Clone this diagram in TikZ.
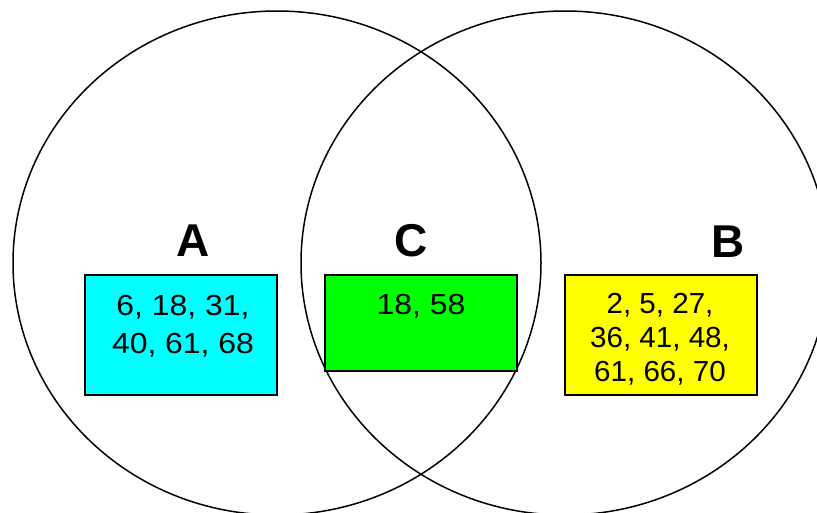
\documentclass[tikz,border=0pt]{standalone}
\usepackage{fontspec}
\setmainfont{Liberation Sans}
\newfontfamily\wideA[FakeStretch=1.1]{Liberation Sans}
\newfontfamily\wideB[FakeStretch=1.02]{Liberation Sans}
\definecolor{fillA}{RGB}{0,255,255}
\definecolor{fillC}{RGB}{0,255,0}
\definecolor{fillB}{RGB}{255,255,0}
\begin{document}
\begin{tikzpicture}[x=1pt,y=-1pt,
  ring/.style={draw=black,line width=1.5pt},
  setbox/.style={draw=black,line width=2pt,rectangle,inner sep=0pt},
  nums/.style={anchor=north,inner sep=0pt,align=center},
  lbl/.style={anchor=base,inner sep=0pt,font=\fontsize{46}{46}\selectfont\bfseries}]
\useasboundingbox (0,0) rectangle (817,512);
\draw[ring] (277,263) ellipse [x radius=264, y radius=252];
\draw[ring] (565,263) ellipse [x radius=264, y radius=252];
\node[setbox,fill=fillA,minimum width=192,minimum height=120] (boxA) at (181,335) {};
\node[setbox,fill=fillC,minimum width=192,minimum height=96] (boxC) at (421,323) {};
\node[setbox,fill=fillB,minimum width=192,minimum height=120] (boxB) at (661,335) {};
\node[nums,font=\wideA\fontsize{29}{37.7}\selectfont] (tA) at (183,295) {6, 18, 31,\\40, 61, 68};
\node[nums,font=\wideA\fontsize{29}{37.7}\selectfont] (tC) at (421,294) {18, 58};
\node[nums,font=\wideB\fontsize{29}{34}\selectfont] (tB) at (660,292.7) {2, 5, 27,\\36, 41, 48,\\61, 66, 70};
\node[lbl] (lA) at (193,256) {A};
\node[lbl] (lC) at (411.5,256) {C};
\node[lbl] (lB) at (728,257) {B};
\end{tikzpicture}
\end{document}
